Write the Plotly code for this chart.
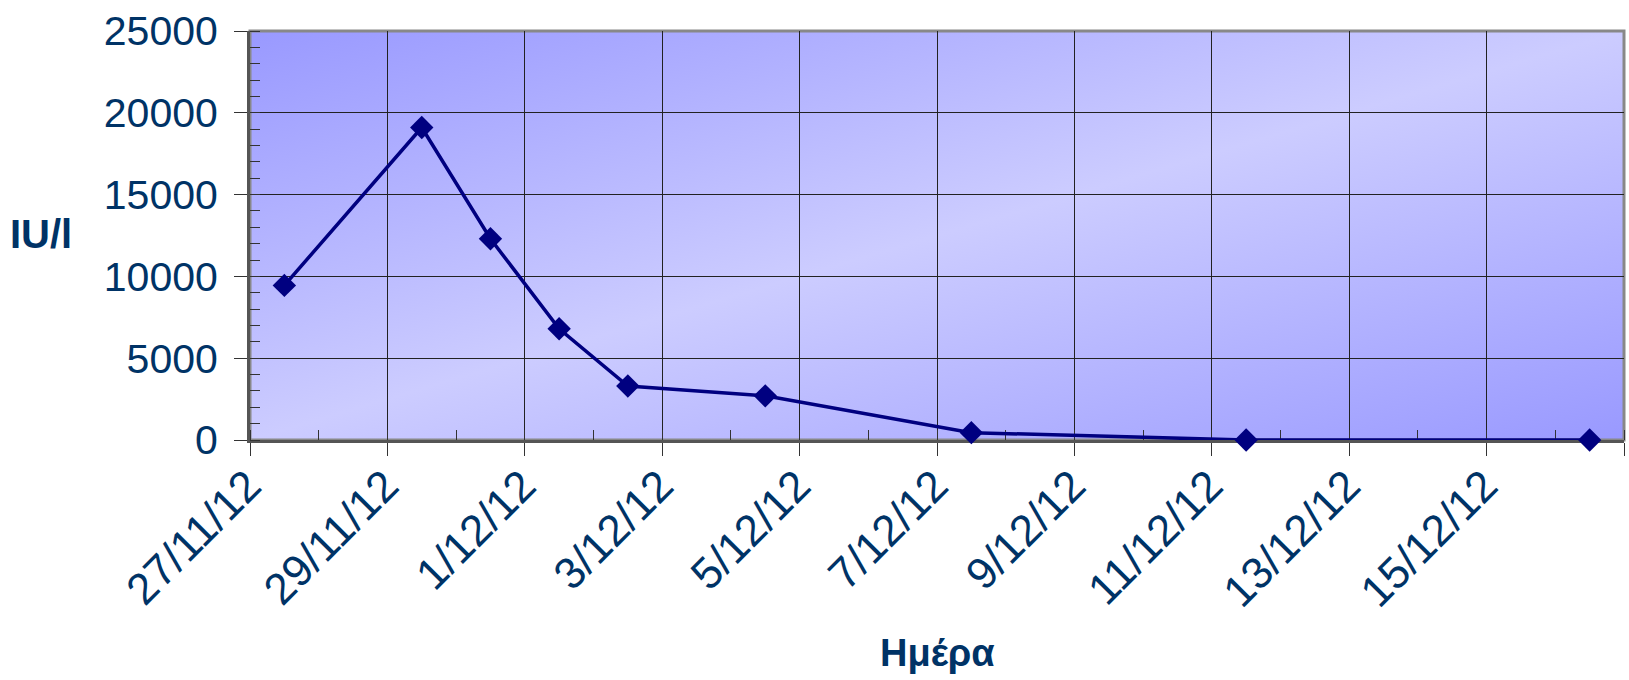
import base64
import plotly.graph_objects as go

# Enzyme activity measured over the days
dates = [
    "2012-11-27 12:00", "2012-11-29 12:00", "2012-11-30 12:00",
    "2012-12-01 12:00", "2012-12-02 12:00", "2012-12-04 12:00",
    "2012-12-07 12:00", "2012-12-11 12:00", "2012-12-16 12:00",
]
values = [9450, 19100, 12300, 6800, 3300, 2700, 450, 0, 0]

tick_dates = [
    "2012-11-27", "2012-11-29", "2012-12-01", "2012-12-03", "2012-12-05",
    "2012-12-07", "2012-12-09", "2012-12-11", "2012-12-13", "2012-12-15",
    "2012-12-17",
]
tick_labels = [
    "27/11/12", "29/11/12", "1/12/12", "3/12/12", "5/12/12", "7/12/12",
    "9/12/12", "11/12/12", "13/12/12", "15/12/12", "",
]

y_title = "IU/l"
x_title = "Ημέρα"

FONT = "Liberation Sans, Arial, sans-serif"
TEXT = "#003366"
NAVY = "#000080"

# Diagonal gradient fill for the plotting area
svg = (
    "<svg xmlns='http://www.w3.org/2000/svg' width='100' height='100' "
    "viewBox='0 0 100 100' preserveAspectRatio='none'>"
    "<defs><linearGradient id='g' x1='0' y1='0' x2='1' y2='1'>"
    "<stop offset='0' stop-color='#9999FF'/>"
    "<stop offset='0.5' stop-color='#CCCCFF'/>"
    "<stop offset='1' stop-color='#9999FF'/>"
    "</linearGradient></defs>"
    "<rect width='100' height='100' fill='url(#g)'/></svg>"
)
bg_src = "data:image/svg+xml;base64," + base64.b64encode(svg.encode()).decode()

fig = go.Figure()
fig.add_trace(go.Scatter(
    x=dates, y=values, mode="lines+markers",
    line=dict(color=NAVY, width=3.5),
    marker=dict(symbol="diamond", size=18, color=NAVY),
    showlegend=False, cliponaxis=False,
))

fig.update_layout(
    width=1629, height=680,
    margin=dict(l=250, r=5, t=31, b=240),
    paper_bgcolor="white",
    plot_bgcolor="rgba(0,0,0,0)",
    font=dict(family=FONT, color=TEXT),
    images=[dict(
        source=bg_src, xref="paper", yref="paper", x=0, y=1,
        sizex=1, sizey=1, xanchor="left", yanchor="top",
        sizing="stretch", layer="below",
    )],
    shapes=[dict(
        type="rect", xref="paper", yref="paper", x0=0, y0=0, x1=1, y1=1,
        line=dict(color="#888888", width=3), layer="below",
    )],
    annotations=[
        dict(text=f"<b>{y_title}</b>", xref="paper", yref="paper",
             x=-0.152, y=0.504, showarrow=False, xanchor="center",
             yanchor="middle", font=dict(size=40, color=TEXT, family=FONT)),
        dict(text=f"<b>{x_title}</b>", xref="paper", yref="paper",
             x=0.5, y=-0.522, showarrow=False, xanchor="center",
             yanchor="middle", font=dict(size=38, color=TEXT, family=FONT)),
    ],
)

fig.update_xaxes(
    type="date",
    range=["2012-11-27", "2012-12-17"],
    tickmode="array", tickvals=tick_dates, ticktext=tick_labels,
    tickangle=-45,
    tickfont=dict(size=44, color=TEXT, family=FONT),
    ticks="outside", ticklen=13, tickwidth=1, tickcolor="#333333",
    ticklabelstandoff=-14, ticklabelshift=-2,
    minor=dict(dtick=86400000, tick0="2012-11-27", ticks="inside",
               ticklen=10, tickwidth=1, tickcolor="#333333", showgrid=False),
    showgrid=True, gridcolor="#222222", gridwidth=1,
    showline=True, linecolor="#555555", linewidth=3,
    zeroline=False, fixedrange=True, layer="below traces",
)
fig.update_yaxes(
    range=[0, 25000], dtick=5000, tick0=0, tickformat="d",
    tickfont=dict(size=41, color=TEXT, family=FONT),
    ticks="outside", ticklen=13, tickwidth=1, tickcolor="#333333",
    ticklabelstandoff=8,
    minor=dict(dtick=1000, ticks="inside", ticklen=10, tickwidth=1,
               tickcolor="#333333", showgrid=False),
    showgrid=True, gridcolor="#222222", gridwidth=1,
    showline=True, linecolor="#555555", linewidth=3,
    zeroline=False, fixedrange=True, layer="below traces",
)

fig.write_html("out.html")
